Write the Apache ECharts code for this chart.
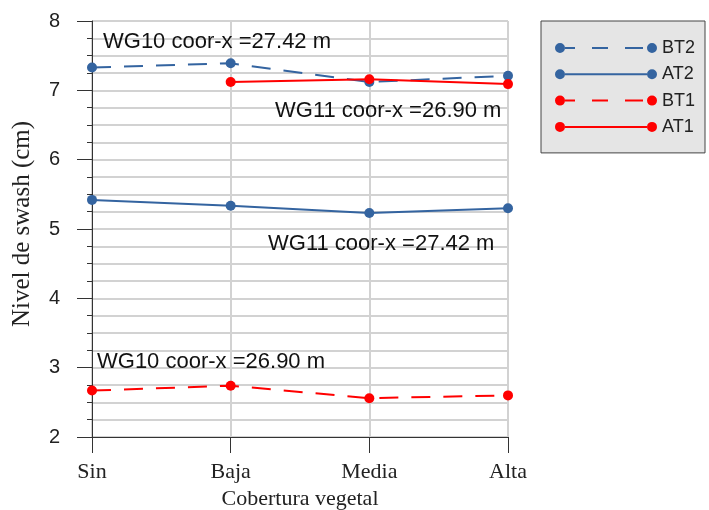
<!DOCTYPE html>
<html>
<head>
<meta charset="utf-8">
<script src="https://cdn.jsdelivr.net/npm/echarts@6/dist/echarts.min.js"></script>
<style>
html,body{margin:0;padding:0;background:#fff;}
#chart{width:709px;height:510px;}
</style>
</head>
<body>
<div id="chart"></div>
<script>
const categories = ['Sin', 'Baja', 'Media', 'Alta'];
const BT2 = [7.33, 7.39, 7.12, 7.21];
const AT2 = [5.42, 5.335, 5.23, 5.30];
const BT1 = [2.67, 2.74, 2.56, 2.60];
const AT1 = [null, 7.12, 7.16, 7.09];
const yTicks = { min: 2, max: 8, interval: 1 };
const annotations = [
  { text: 'WG10 coor-x =27.42 m', x: 103, y: 42 },
  { text: 'WG11 coor-x =26.90 m', x: 275, y: 111 },
  { text: 'WG11 coor-x =27.42 m', x: 268, y: 244 },
  { text: 'WG10 coor-x =26.90 m', x: 97, y: 362 }
];

const BLUE = '#3464a0';
const RED = '#ff0000';
const circL = 'M0,5 A5,5 0 1,1 10,5 A5,5 0 1,1 0,5 Z ';
const circR = 'M92,5 A5,5 0 1,1 102,5 A5,5 0 1,1 92,5 Z ';
const dashIcon = 'path://' + circL + circR +
  'M10,4 L20,4 L20,6 L10,6 Z M37,4 L53,4 L53,6 L37,6 Z M70,4 L88,4 L88,6 L70,6 Z';
const solidIcon = 'path://' + circL + circR + 'M10,4 L92,4 L92,6 L10,6 Z';

function mkSeries(name, data, color, dashed) {
  return {
    name: name,
    type: 'line',
    data: data,
    symbol: 'circle',
    symbolSize: 10,
    showSymbol: true,
    connectNulls: false,
    itemStyle: { color: color, borderWidth: 0 },
    lineStyle: { color: color, width: 2, type: dashed ? [19, 13] : 'solid' },
    emphasis: { disabled: true },
    animation: false
  };
}

const chart = echarts.init(document.getElementById('chart'), null, { renderer: 'canvas' });
chart.setOption({
  animation: false,
  grid: {
    left: 92, right: 201, top: 21, bottom: 73,
    outerBoundsMode: 'none',
    containLabel: false,
    show: true, borderColor: '#444', borderWidth: 1, backgroundColor: 'transparent'
  },
  legend: {
    orient: 'vertical',
    left: 541, top: 21,
    padding: [18, 10, 17, 14],
    backgroundColor: '#e5e5e5',
    borderColor: '#444',
    borderWidth: 1,
    borderRadius: 0,
    itemWidth: 102,
    itemHeight: 10,
    itemGap: 8.3,
    itemTextGap: 12,
    selectedMode: false,
    itemStyle: { borderWidth: 0 },
    textStyle: { fontFamily: 'Liberation Sans', fontSize: 18, color: '#222' },
    data: [
      { name: 'BT2', icon: dashIcon },
      { name: 'AT2', icon: solidIcon },
      { name: 'BT1', icon: dashIcon },
      { name: 'AT1', icon: solidIcon }
    ]
  },
  xAxis: {
    type: 'category',
    data: categories,
    boundaryGap: false,
    name: 'Cobertura vegetal',
    nameLocation: 'middle',
    nameGap: 49,
    nameTextStyle: { fontFamily: 'Liberation Serif', fontSize: 22, color: '#222' },
    axisLine: { show: true, lineStyle: { color: '#333', width: 1 } },
    axisTick: { show: true, length: 16, alignWithLabel: true, lineStyle: { color: '#333', width: 1 } },
    axisLabel: { margin: 24, fontFamily: 'Liberation Serif', fontSize: 22, color: '#222' },
    splitLine: { show: true, lineStyle: { color: '#d2d2d2', width: 2 } }
  },
  yAxis: {
    type: 'value',
    min: yTicks.min, max: yTicks.max, interval: yTicks.interval,
    name: 'Nivel de swash (cm)',
    nameLocation: 'middle',
    nameGap: 57,
    nameTextStyle: { fontFamily: 'Liberation Serif', fontSize: 25, color: '#222', padding: [0, 0, 0, 10] },
    axisLine: { show: true, lineStyle: { color: '#333', width: 1 } },
    axisTick: { show: true, length: 15, lineStyle: { color: '#333', width: 1 } },
    minorTick: { show: true, splitNumber: 4, length: 5, lineStyle: { color: '#333', width: 1 } },
    axisLabel: { margin: 32, fontFamily: 'Liberation Sans', fontSize: 20, color: '#222' },
    splitLine: { show: true, lineStyle: { color: '#d2d2d2', width: 2 } },
    minorSplitLine: { show: true, lineStyle: { color: '#d2d2d2', width: 2 } }
  },
  graphic: annotations.map(a => ({
    type: 'text',
    x: a.x, y: a.y,
    z: 100,
    silent: true,
    style: {
      text: a.text,
      font: '22px "Liberation Sans"',
      fill: '#111',
      align: 'left',
      verticalAlign: 'middle'
    }
  })),
  series: [
    mkSeries('BT2', BT2, BLUE, true),
    mkSeries('AT2', AT2, BLUE, false),
    mkSeries('BT1', BT1, RED, true),
    mkSeries('AT1', AT1, RED, false)
  ]
});
</script>
</body>
</html>
